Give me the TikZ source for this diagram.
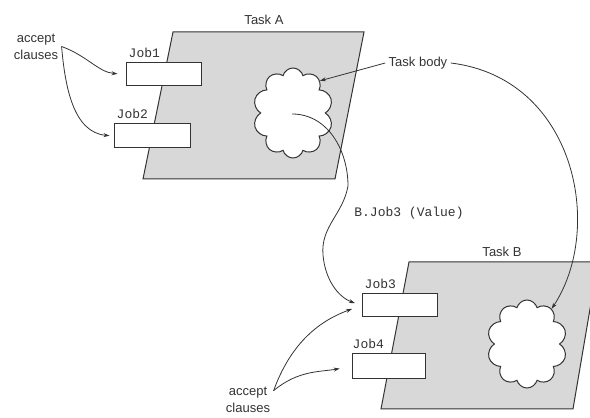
\documentclass[tikz,border=0pt]{standalone}
\usepackage{fontspec}
\setmainfont{Liberation Sans}
\setmonofont{Liberation Mono}
\usetikzlibrary{shapes.symbols}
\usetikzlibrary{arrows.meta}
\definecolor{inkgray}{HTML}{333333}
\definecolor{taskgray}{HTML}{D8D8D8}
\tikzstyle{taskarea} = [draw=inkgray, fill=taskgray, line width=1pt]
\tikzstyle{jobbox} = [draw=inkgray, fill=white, line width=1pt,
rectangle, minimum width=75pt, minimum height=23pt, inner sep=0pt]
\tikzstyle{joblabel} = [font=\fontsize{13}{15}\selectfont\ttfamily,
text=inkgray, anchor=south west, inner sep=0pt]
\tikzstyle{bodycloud} = [draw=inkgray, fill=white, line width=1pt,
cloud, cloud puffs=10, minimum width=80pt, minimum height=90pt]
\tikzstyle{caption} = [font=\fontsize{13}{17}\selectfont, text=inkgray, align=center]
\tikzstyle{flow} = [draw=inkgray, line width=0.8pt, -{Stealth[length=6pt,width=4pt]}]

\begin{document}
\begin{tikzpicture}[x=1pt,y=1pt]
        \useasboundingbox (0,0) rectangle (590,418);
        \filldraw[taskarea] (173,386) -- (364,386) -- (335,239) -- (143,239) -- cycle;
        \filldraw[taskarea] (409,156) -- (598,156) -- (573,9) -- (381,9) -- cycle;

        \node[jobbox] (job1) at (163.5,343.5) {};
        \node[jobbox, minimum width=76pt, minimum height=24pt] (job2) at (152,282) {};
        \node[jobbox] (job3) at (399.5,112.5) {};
        \node[jobbox, minimum width=73pt, minimum height=25pt] (job4) at (388.5,51.5) {};
        \node[joblabel] (job1name) at ([shift={(3pt,5pt)}]job1.north west) {Job1};
        \node[joblabel] (job2name) at ([shift={(3pt,5pt)}]job2.north west) {Job2};
        \node[joblabel] (job3name) at ([shift={(3pt,5pt)}]job3.north west) {Job3};
        \node[joblabel] (job4name) at ([shift={(1pt,5pt)}]job4.north west) {Job4};

        \node[bodycloud] (clouda) at (293,305) {};
        \node[bodycloud, minimum height=88pt] (cloudb) at (527,74) {};
        \coordinate (msg) at (292,304);

        \node[caption] (taska) at (264,398) {Task A};
        \node[caption] (taskb) at (502,166) {Task B};
        \node[caption] (body) at (418,355) {Task body};
        \node[caption] (acca) at (36,371.5) {accept\\clauses};
        \node[caption] (accb) at (248,18) {accept\\clauses};
        \node[joblabel, anchor=center] (call) at (409,205) {B.Job3 (Value)};

        \draw[flow, shorten >=8pt] (acca.east) to[out=-20,in=175] (job1.west);
        \draw[flow, shorten >=4pt] (acca.east) to[out=-85,in=175] (job2.west);
        \draw[flow] (body.west) -- (clouda.50);
        \draw[flow] (body.east) .. controls (575,340) and (605,190) .. (cloudb.55);
        \draw[flow, shorten >=7pt] (msg) to[out=0,in=90] (348,232)
            to[out=-100,in=95] (323,163) to[out=-85,in=160] (job3.west);
        \draw[flow, shorten >=10pt] (accb.20) to[out=70,in=200] (job3.west);
        \draw[flow, shorten >=12pt] (accb.20) to[out=40,in=190] (job4.west);
\end{tikzpicture}
\end{document}
